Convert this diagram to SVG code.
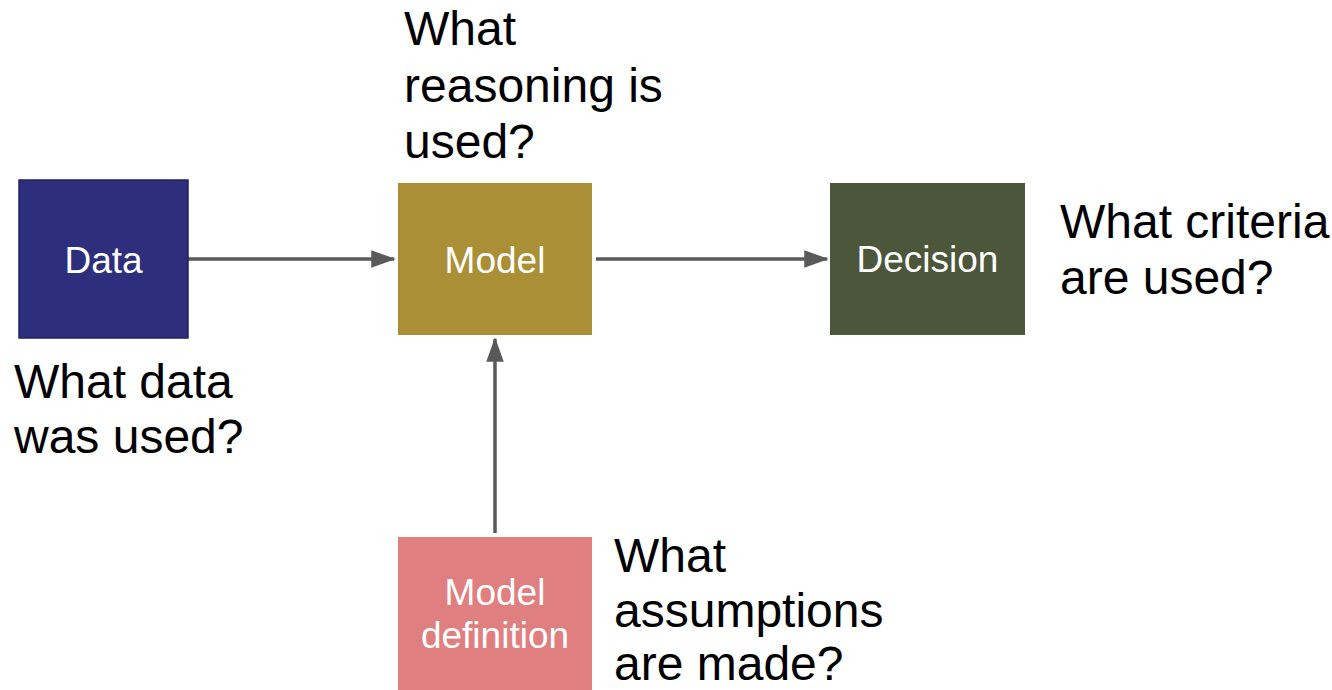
<svg xmlns="http://www.w3.org/2000/svg" width="1332" height="690" viewBox="0 0 1332 690">
<style>
.lbl{font-family:"Liberation Sans",Arial,sans-serif;font-size:37px;fill:#ffffff;text-anchor:middle}
.q{font-family:"Liberation Sans",Arial,sans-serif;font-size:48px;fill:#000000}
.conn{stroke:#595959;stroke-width:3.5;fill:none;marker-end:url(#ah)}
</style>
<defs>
<marker id="ah" markerWidth="7" markerHeight="5" refX="6.5" refY="2.5" orient="auto" markerUnits="strokeWidth">
<path d="M0,0 L7,2.5 L0,5 Z" fill="#595959"/>
</marker>
</defs>
<rect width="1332" height="690" fill="#ffffff"/>
<g id="connectors">
<line class="conn" x1="188" y1="259" x2="394" y2="259"/>
<line class="conn" x1="596" y1="259" x2="827" y2="259"/>
<line class="conn" x1="495" y1="533" x2="495" y2="339"/>
</g>
<g id="node-data">
<rect x="19" y="180" width="169" height="158" fill="#2d2e7c" stroke="#22235e" stroke-width="1.5"/>
<text class="lbl" x="103.5" y="273">Data</text>
</g>
<g id="node-model">
<rect x="398" y="183" width="194" height="152" fill="#aa8f37"/>
<text class="lbl" x="495" y="273">Model</text>
</g>
<g id="node-decision">
<rect x="830" y="183" width="195" height="152" fill="#4c563b"/>
<text class="lbl" x="927.5" y="272">Decision</text>
</g>
<g id="node-modeldef">
<rect x="398" y="537" width="194" height="160" fill="#e07f80"/>
<text class="lbl" x="495" y="605">Model</text>
<text class="lbl" x="495" y="648">definition</text>
</g>
<g id="questions">
<text class="q" x="14" y="398">What data</text>
<text class="q" x="14" y="453">was used?</text>
<text class="q" x="404" y="45">What</text>
<text class="q" x="404" y="102">reasoning is</text>
<text class="q" x="404" y="158">used?</text>
<text class="q" x="1060" y="238">What criteria</text>
<text class="q" x="1060" y="294">are used?</text>
<text class="q" x="614" y="572">What</text>
<text class="q" x="614" y="627">assumptions</text>
<text class="q" x="614" y="680">are made?</text>
</g>
</svg>
